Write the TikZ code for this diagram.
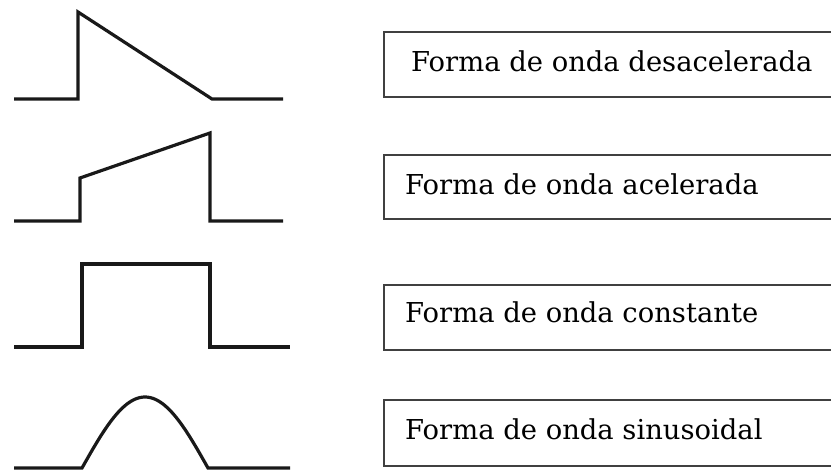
\documentclass[tikz,border=0pt]{standalone}
\usepackage{fontspec}
\setmainfont{DejaVu Serif}
\begin{document}
\begin{tikzpicture}[x=1pt,y=-1pt,
  wave/.style={line width=3.2pt, line join=miter, black!90},
  lbox/.style={draw=black!75, line width=1.3pt},
  lbl/.style={anchor=base west, inner sep=0pt, font=\fontsize{27.4}{32}\selectfont}]
\useasboundingbox (0,0) rectangle (831,470);
\clip (0,0) rectangle (831,470);
% waveforms
\draw[wave] (14,99) -- (78,99) -- (78,12) -- (212,99) -- (283,99);
\draw[wave] (14,221) -- (80,221) -- (80,178) -- (210,133) -- (210,221) -- (283,221);
\draw[wave] (14,347) -- (82,347) -- (82,264) -- (210,264) -- (210,347) -- (290,347);
\draw[wave] (14,468) -- (82,468) -- plot[domain=0:180, samples=60] ({82+0.7*\x},{468-71*sin(\x)}) -- (290,468);
% boxes
\draw[lbox] (384,32) rectangle (840,97);
\draw[lbox] (384,155) rectangle (840,219);
\draw[lbox] (384,285) rectangle (840,350);
\draw[lbox] (384,400) rectangle (840,466);
% labels
\node[lbl] (l1) at (411,72) {Forma de onda desacelerada};
\node[lbl] (l2) at (405,195) {Forma de onda acelerada};
\node[lbl] (l3) at (405,323) {Forma de onda constante};
\node[lbl] (l4) at (405,440) {Forma de onda sinusoidal};
\end{tikzpicture}
\end{document}
